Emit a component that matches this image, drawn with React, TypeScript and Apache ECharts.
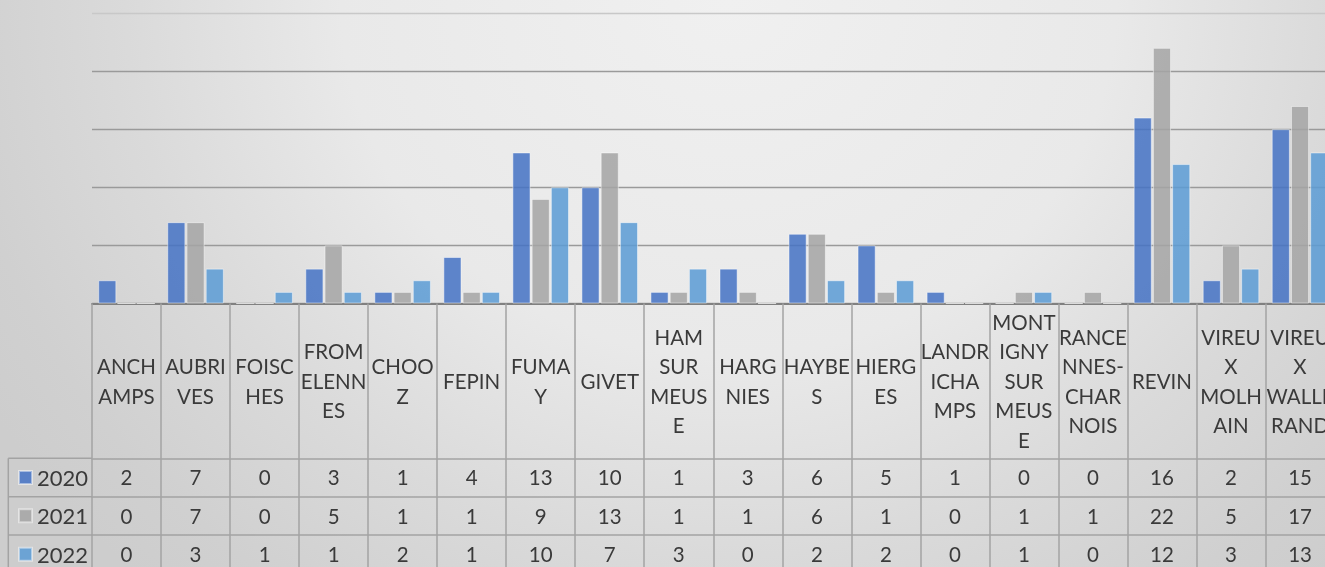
import React, { useEffect, useRef } from 'react';
import * as echarts from 'echarts';

// ---- data ----
const categories = [
  'ANCHAMPS', 'AUBRIVES', 'FOISCHES', 'FROMELENNES', 'CHOOZ', 'FEPIN', 'FUMAY', 'GIVET',
  'HAM SUR MEUSE', 'HARGNIES', 'HAYBES', 'HIERGES', 'LANDRICHAMPS', 'MONTIGNY SUR MEUSE',
  'RANCENNES-CHARNOIS', 'REVIN', 'VIREUX MOLHAIN', 'VIREUX WALLERAND',
];
// header tick labels as wrapped in the data table
const headerLabels = [
  'ANCH\nAMPS', 'AUBRI\nVES', 'FOISC\nHES', 'FROM\nELENN\nES', 'CHOO\nZ', 'FEPIN', 'FUMA\nY', 'GIVET',
  'HAM\nSUR\nMEUS\nE', 'HARG\nNIES', 'HAYBE\nS', 'HIERG\nES', 'LANDR\nICHA\nMPS', 'MONT\nIGNY\nSUR\nMEUS\nE',
  'RANCE\nNNES-\nCHAR\nNOIS', 'REVIN', 'VIREU\nX\nMOLH\nAIN', 'VIREU\nX\nWALLE\nRAND',
];
const years = ['2020', '2021', '2022'];
const values2020 = [2, 7, 0, 3, 1, 4, 13, 10, 1, 3, 6, 5, 1, 0, 0, 16, 2, 15];
const values2021 = [0, 7, 0, 5, 1, 1, 9, 13, 1, 1, 6, 1, 0, 1, 1, 22, 5, 17];
const values2022 = [0, 3, 1, 1, 2, 1, 10, 7, 3, 0, 2, 2, 0, 1, 0, 12, 3, 13];
const yTicks = { min: 0, max: 25, interval: 5 };

// ---- styles / layout ----
const seriesValues = [values2020, values2021, values2022];
const colors = ['#4472c4', '#a5a5a5', '#5b9bd5'];
const FONT = 'Lato, Carlito, "Liberation Sans", sans-serif';
const TEXT = '#3a3a3a';
const LINE = '#a3a3a3';
const FS = 20.5;
const gridLeft = 92;
const gridTop = 13;
const gridHeight = 290.5;
const colW = 69.03;
const gridWidth = colW * categories.length;
const baseY = gridTop + gridHeight;
const headerH = 154.8;
const rowH = 38.35;
const legendLeftX = 8.3;

function buildOption(): any {
  const tableTop = baseY + headerH;
  const xAxes: any[] = [
    {
      type: 'category',
      data: categories,
      position: 'bottom',
      gridIndex: 0,
      axisLine: { show: true, lineStyle: { color: '#808080', width: 2 } },
      axisTick: { show: true, interval: 0, length: headerH, lineStyle: { color: LINE, width: 1.5 } },
      axisLabel: {
        interval: 0,
        formatter: (_v: string, i: number) => headerLabels[i],
        margin: headerH / 2,
        verticalAlign: 'middle',
        align: 'center',
        fontSize: FS,
        lineHeight: 29.5,
        color: TEXT,
        fontFamily: FONT,
      },
      splitLine: { show: false },
    },
  ];
  seriesValues.forEach((vals, r) => {
    xAxes.push({
      type: 'category',
      data: categories,
      position: 'bottom',
      gridIndex: 0,
      offset: headerH + r * rowH,
      axisLine: { show: true, lineStyle: { color: LINE, width: 1.5 } },
      axisTick: { show: true, interval: 0, length: rowH, lineStyle: { color: LINE, width: 1.5 } },
      axisLabel: {
        interval: 0,
        formatter: (_v: string, i: number) => String(vals[i]),
        margin: rowH / 2,
        verticalAlign: 'middle',
        align: 'center',
        fontSize: FS,
        color: TEXT,
        fontFamily: FONT,
      },
      splitLine: { show: false },
    });
  });

  const graphicLines: any[] = [
    {
      type: 'line',
      shape: { x1: legendLeftX, y1: tableTop, x2: legendLeftX, y2: 600 },
      style: { stroke: LINE, lineWidth: 1.5 },
    },
  ];
  for (let r = 0; r < years.length; r++) {
    const y = tableTop + r * rowH;
    graphicLines.push({
      type: 'line',
      shape: { x1: legendLeftX, y1: y, x2: gridLeft, y2: y },
      style: { stroke: LINE, lineWidth: 1.5 },
    });
  }

  return {
    animation: false,
    backgroundColor: 'transparent',
    textStyle: { fontFamily: FONT },
    grid: {
      left: gridLeft,
      top: gridTop,
      width: gridWidth,
      height: gridHeight,
      containLabel: false,
      outerBoundsMode: 'none',
    },
    legend: {
      data: years,
      orient: 'vertical',
      left: 18,
      top: tableTop + rowH / 2 - 12,
      padding: 0,
      itemGap: rowH - 24,
      itemWidth: 13,
      itemHeight: 13,
      icon: 'rect',
      selectedMode: false,
      textStyle: { fontSize: 22, lineHeight: 24, color: TEXT, fontFamily: FONT },
    },
    xAxis: xAxes,
    yAxis: {
      type: 'value',
      min: yTicks.min,
      max: yTicks.max,
      interval: yTicks.interval,
      axisLabel: { show: false },
      axisLine: { show: false },
      axisTick: { show: false },
      splitLine: {
        show: true,
        lineStyle: {
          color: ['#9a9a9a', '#9a9a9a', '#9a9a9a', '#9a9a9a', '#9a9a9a', '#c8c8c8'],
          width: 1.3,
        },
      },
    },
    series: seriesValues.map((vals, k) => ({
      name: years[k],
      type: 'bar',
      xAxisIndex: 0,
      yAxisIndex: 0,
      data: vals,
      barGap: '6%',
      barCategoryGap: '18%',
      itemStyle: {
        color: colors[k],
        opacity: 0.85,
        borderColor: 'rgba(255,255,255,0.55)',
        borderWidth: 1,
      },
    })),
    graphic: graphicLines,
  };
}

export default function App() {
  const ref = useRef<HTMLDivElement>(null);
  useEffect(() => {
    if (!ref.current) return;
    const chart = echarts.init(ref.current, null, { renderer: 'svg' });
    chart.setOption(buildOption());
    return () => chart.dispose();
  }, []);
  return (
    <div
      ref={ref}
      style={{
        position: 'fixed',
        left: 0,
        top: 0,
        width: 1325,
        height: 567,
        background:
          'radial-gradient(ellipse 65% 140% at 55% 0%, #f0f0f0 0%, #e9e9e9 45%, #dadada 70%, #d0d0d0 90%, #cdcdcd 100%)',
      }}
    />
  );
}
